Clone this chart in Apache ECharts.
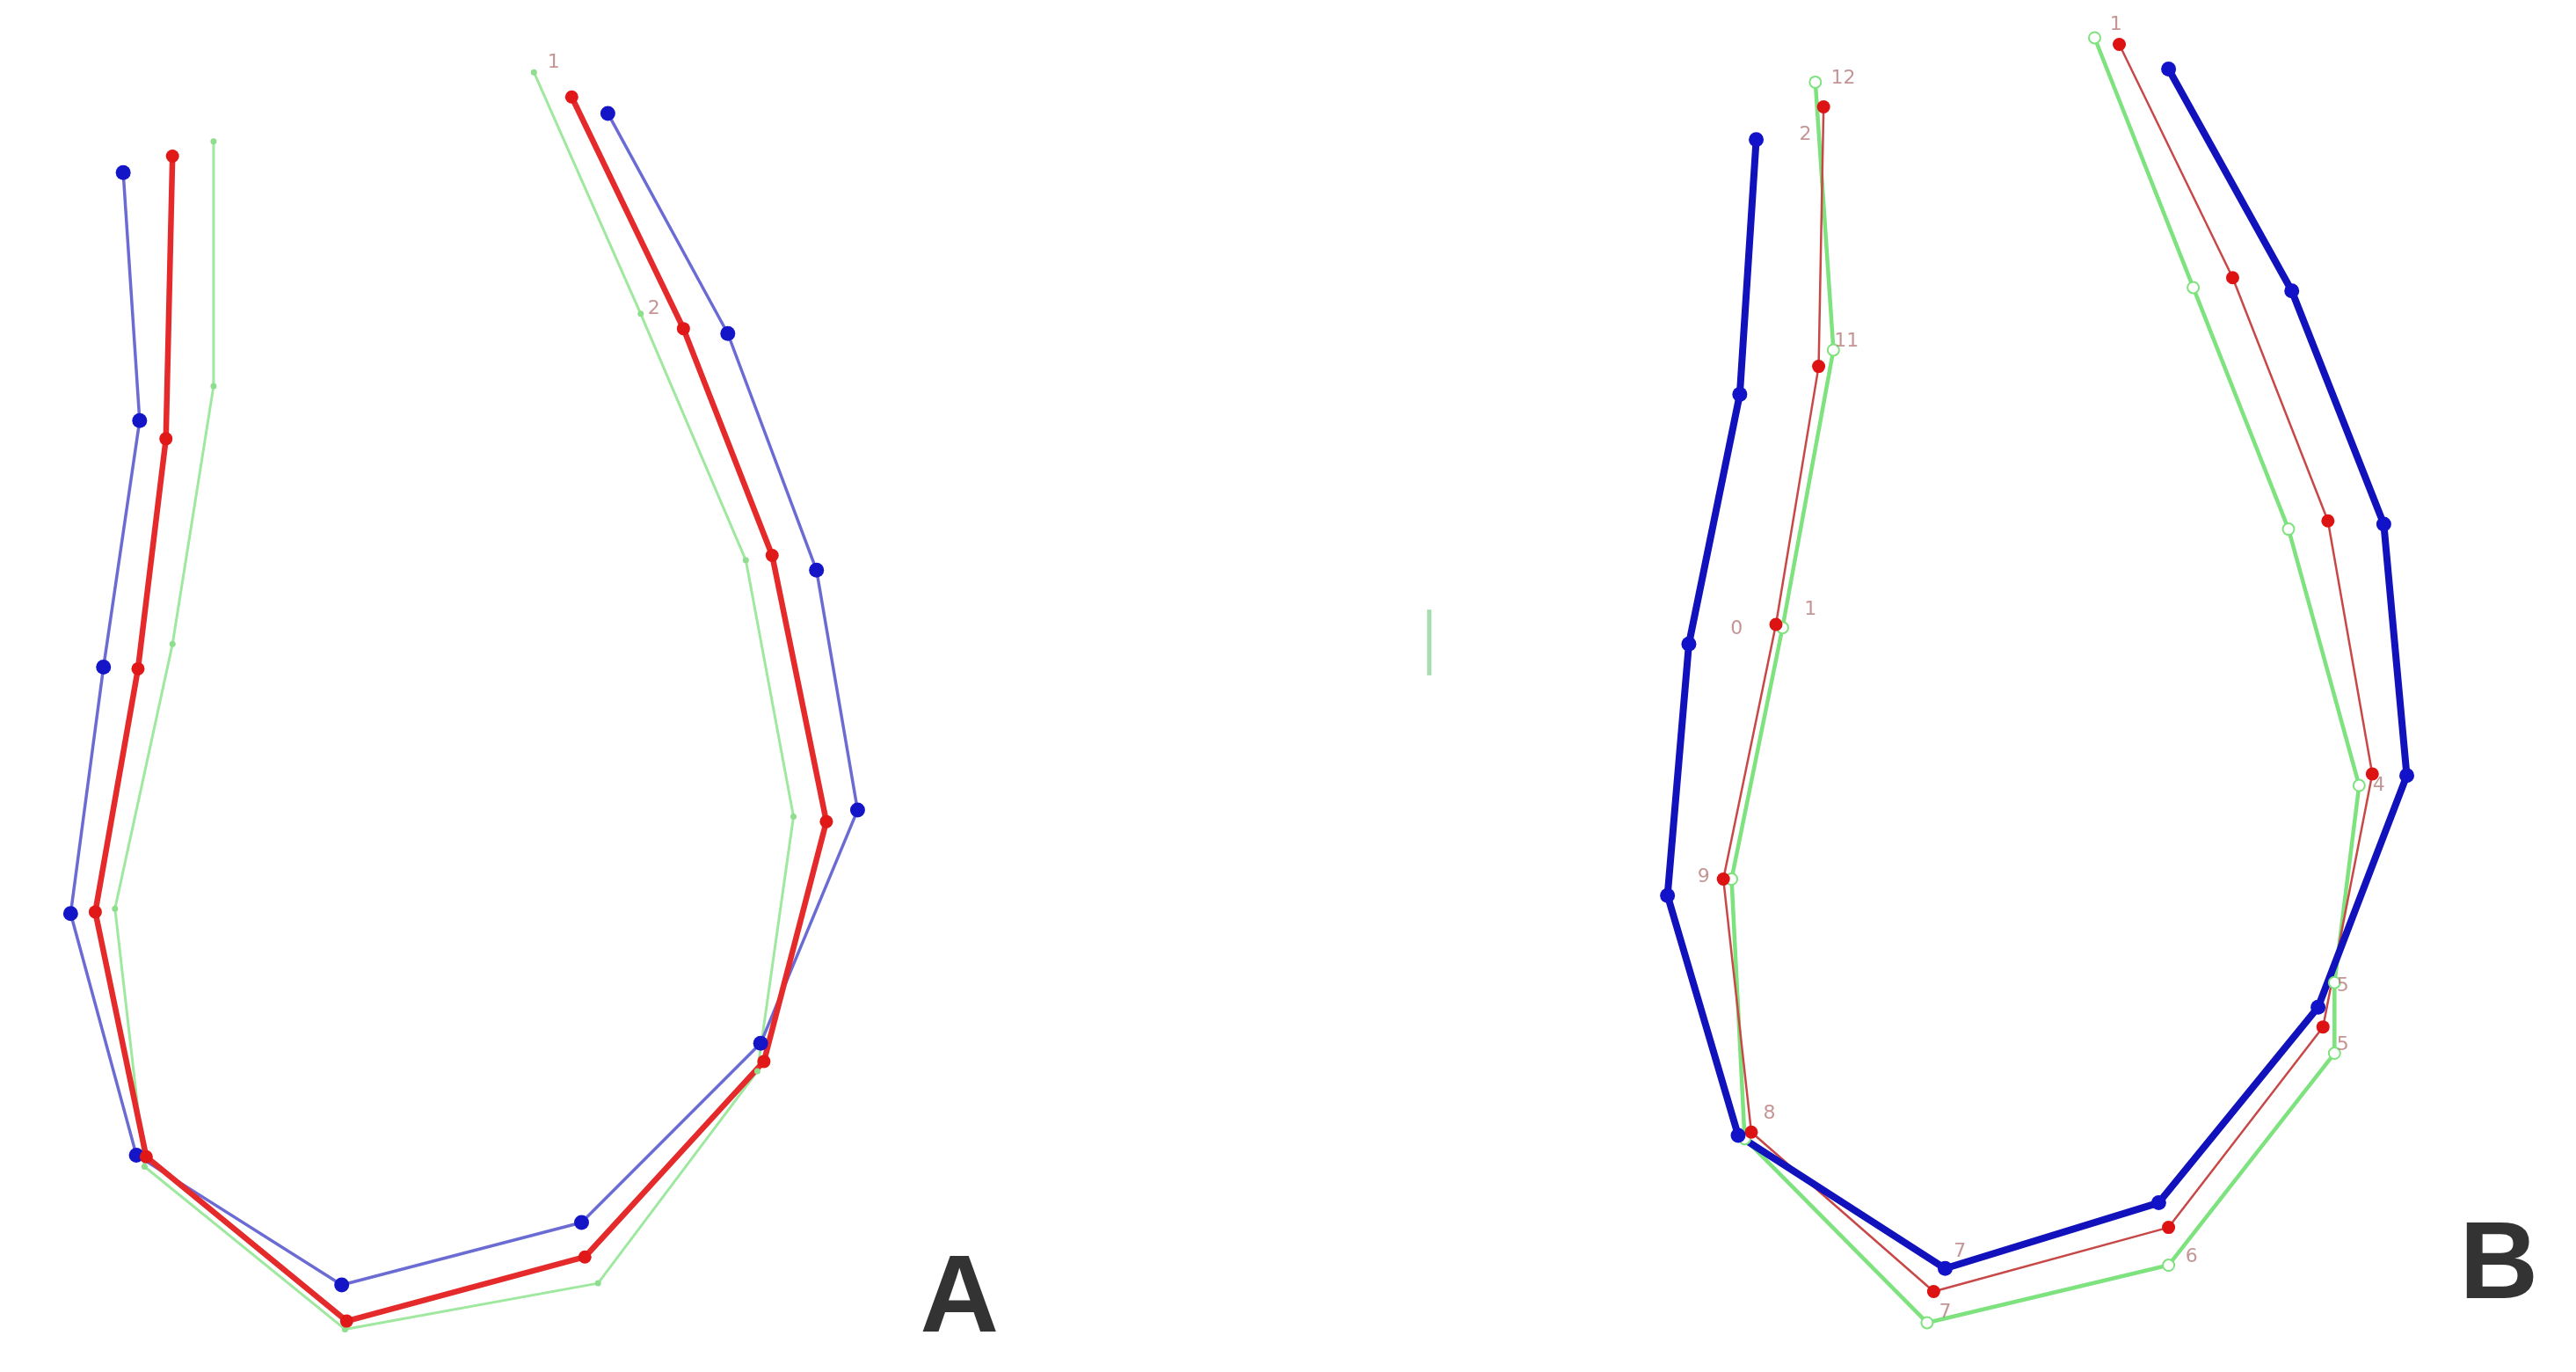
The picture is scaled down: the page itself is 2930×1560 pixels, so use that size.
<!DOCTYPE html>
<html lang="en">
<head>
<meta charset="UTF-8">
<title>Contours A and B</title>
<script src="https://cdn.jsdelivr.net/npm/echarts@6.0.0/dist/echarts.min.js"></script>
<style>html,body{margin:0;padding:0;background:#fff;overflow:hidden}</style>
</head>
<body>
<div id="echart" style="width:2930px;height:1560px;"></div>
<script>
    // picture space: 1568 x 835 (x to the right, y downwards)
    const blueA = [[75,105],[85,256],[63,406],[43,556],[83,703],[208,782],[354,744],[463,635],[522,493],[497,347],[443,203],[370,69]];
    const redA = [[105,95],[101,267],[84,407],[58,555],[89,704],[211,804],[356,765],[465,646],[503,500],[470,338],[416,200],[348,59]];
    const greenA = [[130,86],[130,235],[105,392],[70,553],[88,710],[210,809],[364,781],[461,652],[483,497],[454,341],[390,191],[325,44]];

    const blueB = [[1069,85],[1059,240],[1028,392],[1015,545],[1058,691],[1184,772],[1314,732],[1411,613],[1465,472],[1451,319],[1395,177],[1320,42]];
    const redB = [[1110,65],[1107,223],[1081,380],[1049,535],[1066,689],[1177,786],[1320,747],[1414,625],[1444,471],[1417,317],[1359,169],[1290,27]];
    const greenB = [[1105,50],[1116,213],[1085,382],[1054,535],[1062,693],[1173,805],[1320,770],[1421,641],[1421,598],[1436,478],[1393,322],[1335,175],[1275,23]];

    // small point numbers
    const pointLabels = [
        [337,38,'1'],[398,188,'2'],
        [1122,48,'12'],[1099,82,'2'],[1124,208,'11'],[1057,383,'0'],[1102,371,'1'],
        [1037,534,'9'],[1077,678,'8'],[1193,762,'7'],[1184,799,'7'],[1334,765,'6'],
        [1426,636,'5'],[1426,600,'5'],[1448,478,'4'],[1288,15,'1']
    ];
    const stray = [[870,371],[870,411]];
    const panelNames = ['A', 'B'];
    const panelPos = [[584,792],[1521,772]];

    function line(data, color, width, dotColor, dotSize, symbol) {
        return {
            type: 'line',
            data: data,
            symbol: symbol || 'circle',
            symbolSize: dotSize,
            showSymbol: dotSize > 0,
            lineStyle: { color: color, width: width, join: 'round' },
            itemStyle: { color: dotColor, borderColor: dotColor, borderWidth: symbol === 'emptyCircle' ? 2 : 0 },
            z: 2,
            silent: true
        };
    }

    var myChart = echarts.init(document.getElementById('echart'));
    myChart.setOption({
        animation: false,
        grid: { left: 0, right: 0, top: 0, bottom: 0 },
        xAxis: { type: 'value', min: 0, max: 1568, show: false },
        yAxis: { type: 'value', min: 0, max: 835, inverse: true, show: false },
        series: [
            line(greenA, '#9fe89f', 3, '#8ede8e', 7),
            line(blueA, '#6b6bd4', 3.5, '#1515c8', 17),
            line(redA, '#e42a2a', 6.5, '#e01818', 15),

            line(greenB, '#7ee27e', 4.5, '#7ee27e', 13, 'emptyCircle'),
            line(redB, '#c84848', 2.5, '#dd1212', 15),
            line(blueB, '#1212bd', 8, '#1212c8', 17),

            {
                type: 'line',
                data: stray,
                symbol: 'none',
                lineStyle: { color: '#a6deb0', width: 5 }
            },
            {
                type: 'scatter',
                data: pointLabels.map(p => ({ value: [p[0], p[1]], name: p[2] })),
                symbolSize: 0,
                z: 5,
                label: {
                    show: true,
                    position: 'inside',
                    formatter: p => p.name,
                    color: '#b57a7a',
                    fontSize: 22,
                    fontFamily: 'DejaVu Sans'
                }
            },
            {
                type: 'scatter',
                data: panelNames.map((n, i) => ({ value: panelPos[i], name: n })),
                symbolSize: 0,
                z: 5,
                label: {
                    show: true,
                    position: 'inside',
                    formatter: p => p.name,
                    color: '#000',
                    fontSize: 124,
                    fontWeight: 'bold',
                    fontFamily: '"Liberation Sans", Arial, sans-serif'
                }
            }
        ]
    });
</script>
</body>
</html>
